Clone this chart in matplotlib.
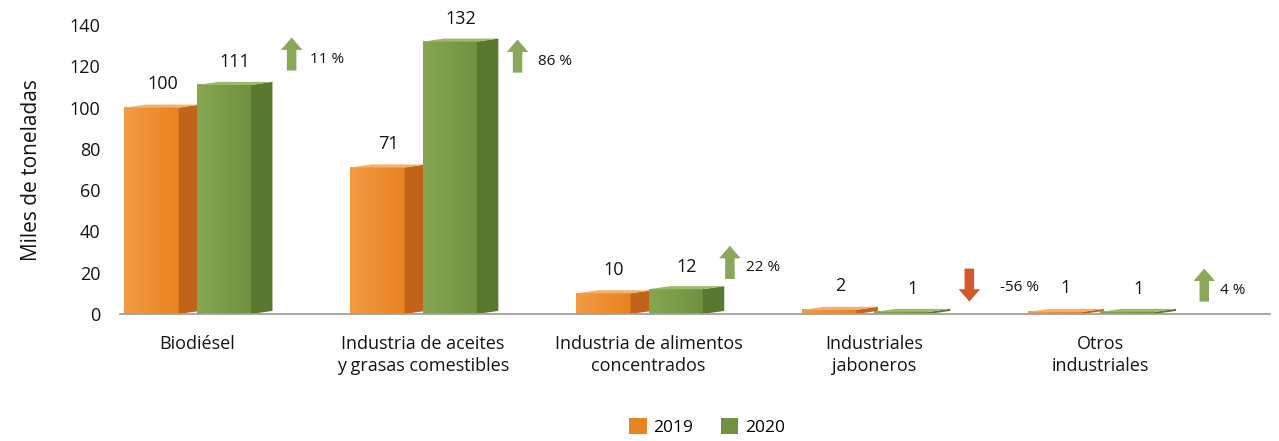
import matplotlib
matplotlib.use("Agg")
import matplotlib.pyplot as plt
import numpy as np
from matplotlib.patches import Polygon, Patch, FancyArrow
from matplotlib.colors import LinearSegmentedColormap

plt.rcParams["font.family"] = ["Open Sans", "DejaVu Sans"]

# ── data ──────────────────────────────────────────────────────────────────────
categories = ["Biodiésel",
              "Industria de aceites\ny grasas comestibles",
              "Industria de alimentos\nconcentrados",
              "Industriales\njaboneros",
              "Otros\nindustriales"]
v2019 = [100, 71, 10, 2, 1]
v2020 = [111, 132, 12, 1, 1]
pct_labels = ["11 %", "86 %", "22 %", "-56 %", "4 %"]
pct_dir = [1, 1, 1, -1, 1]

# ── style / layout ────────────────────────────────────────────────────────────
ORANGE = ("#F29B45", "#E9821F", "#BF6418", "#F5B070")   # front L, front R, side, top
GREEN = ("#86A652", "#6F9240", "#58782F", "#9DB96C")
ARROW_UP = "#8AA85A"
ARROW_DN = "#D4572F"
TXT = "#141414"
W, DX, DY = 0.24, 0.095, 1.5
arrow_tail = [118, 117, 17, 22, 6]     # annotation placement (data units)
arrow_dx = [0.42, 0.42, 0.36, 0.42, 0.46]
text_dx = [0.50, 0.51, 0.43, 0.555, 0.53]

fig = plt.figure(figsize=(12.79, 4.41), dpi=100)
ax = fig.add_axes([0.0938, 0.288, 0.899, 0.655])


def bar3d(left, h, cols, z):
    cmap = LinearSegmentedColormap.from_list("g", [cols[0], cols[1]])
    grad = np.linspace(0, 1, 64).reshape(1, -1)
    ax.imshow(grad, cmap=cmap, extent=[left, left + W, 0, h], aspect="auto",
              zorder=z, interpolation="bilinear")
    side = [(left + W, 0), (left + W + DX, DY), (left + W + DX, h + DY), (left + W, h)]
    top = [(left, h), (left + W, h), (left + W + DX, h + DY), (left + DX, h + DY)]
    ax.add_patch(Polygon(side, closed=True, fc=cols[2], ec="none", zorder=z))
    ax.add_patch(Polygon(top, closed=True, fc=cols[3], ec="none", zorder=z))


x = np.arange(len(categories))
for i, c in enumerate(x):
    lo = c - 0.32
    bar3d(lo, v2019[i], ORANGE, 2)
    bar3d(c, v2020[i], GREEN, 3)
    ax.text(lo + (W + DX) / 2, v2019[i] + 11.5, str(v2019[i]), ha="center",
            va="center", fontsize=13, color=TXT)
    ax.text(c + (W + DX) / 2, v2020[i] + 11.0, str(v2020[i]), ha="center",
            va="center", fontsize=13, color=TXT)

    d = pct_dir[i]
    col = ARROW_UP if d > 0 else ARROW_DN
    ax.add_patch(FancyArrow(c + arrow_dx[i], arrow_tail[i], 0, 16 * d,
                            width=0.042, head_width=0.095, head_length=6,
                            length_includes_head=True, fc=col, ec="none", zorder=4))
    ty = arrow_tail[i] + 5.5 if d > 0 else arrow_tail[i] - 9
    ax.text(c + text_dx[i], ty, pct_labels[i], ha="left", va="center",
            fontsize=11, color=TXT)

ax.set_xlim(-0.34, 4.75)
ax.set_ylim(0, 140)
ax.set_yticks(np.arange(0, 141, 20))
ax.set_xticks(x)
ax.set_xticklabels(categories, fontsize=13, linespacing=1.3, color=TXT)
ax.tick_params(axis="x", length=0, pad=15)
ax.tick_params(axis="y", length=0, pad=14, labelsize=13, labelcolor=TXT)
for s in ["top", "right", "left"]:
    ax.spines[s].set_visible(False)
ax.spines["bottom"].set_color("#A0A0A0")
ax.spines["bottom"].set_linewidth(1.3)
ax.spines["bottom"].set_zorder(5)
ax.set_ylabel("Miles de toneladas", fontsize=15, labelpad=20, color=TXT)

handles = [Patch(facecolor=ORANGE[1], label="2019"),
           Patch(facecolor=GREEN[1], label="2020")]
fig.legend(handles=handles, loc="center", bbox_to_anchor=(0.553, 0.032), ncol=2,
           frameon=False, fontsize=12.5, handlelength=1.0, handleheight=1.0,
           columnspacing=1.6, handletextpad=0.4)

fig.savefig("out.png", dpi=100)
